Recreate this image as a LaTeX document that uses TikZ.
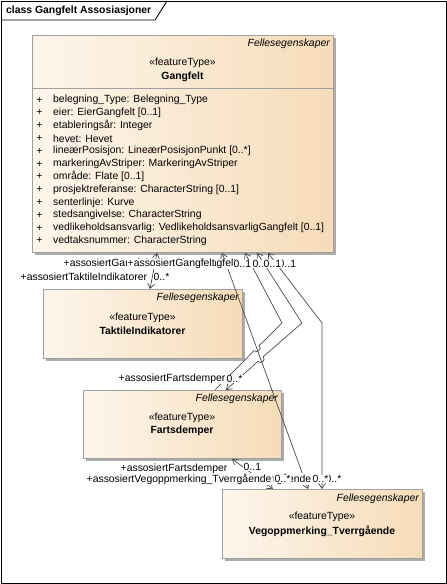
\documentclass[tikz,border=0pt]{standalone}
\usepackage{fontspec}
\setmainfont{Liberation Sans}
\usetikzlibrary{arrows.meta,shadows}
\definecolor{boxL}{HTML}{FDF6EC}
\definecolor{boxR}{HTML}{F6DCB8}
\definecolor{boxBorder}{HTML}{A0A0A0}
\definecolor{shadowC}{HTML}{ACACAC}
\definecolor{lineC}{HTML}{4A4A4A}
\newcommand\dfont{\fontsize{10.4}{12.8}\selectfont}
\begin{document}
\begin{tikzpicture}[x=1pt,y=-1pt,
  umlbox/.style={draw=boxBorder, line width=0.8pt, left color=boxL, right color=boxR,
    anchor=north west, inner sep=0pt,
    general shadow={fill=shadowC, shadow xshift=3pt, shadow yshift=-3pt}},
  txt/.style={font=\dfont, inner sep=0pt},
  lbl/.style={font=\dfont, fill=white, inner sep=0.5pt, anchor=west},
  conn/.style={draw=lineC, line width=0.7pt},
  >={Straight Barb[length=5pt,width=7pt]},
]
\useasboundingbox (0,0) rectangle (447,584);
\fill[white] (0,0) rectangle (447,584);
% frame
\node[draw, line width=0.9pt, anchor=north west, minimum width=445pt, minimum height=582pt, inner sep=0pt] (frame) at (1,1) {};
\draw[line width=0.9pt] (1,20) -- (155,20) -- (167,1);
\node[txt, anchor=west, font=\dfont\bfseries] (title) at (6,11) {class Gangfelt Assosiasjoner};

% Gangfelt
\node[umlbox, minimum width=301pt, minimum height=217pt] (gf) at (32,35) {};
\draw[boxBorder, line width=0.8pt] (32,88) -- (333,88);
\node[txt, anchor=east] (gfFe) at (330,44) {\itshape Fellesegenskaper};
\node[txt] (gfSt) at (182.5,63) {«featureType»};
\node[txt, font=\dfont\bfseries] (gfNm) at (182.5,77) {Gangfelt};
\foreach \t [count=\i] in {
  {belegning\_Type: Belegning\_Type},
  {eier: EierGangfelt [0..1]},
  {etableringsår: Integer},
  {hevet: Hevet},
  {lineærPosisjon: LineærPosisjonPunkt [0..*]},
  {markeringAvStriper: MarkeringAvStriper},
  {område: Flate [0..1]},
  {prosjektreferanse: CharacterString [0..1]},
  {senterlinje: Kurve},
  {stedsangivelse: CharacterString},
  {vedlikeholdsansvarlig: VedlikeholdsansvarligGangfelt [0..1]},
  {vedtaksnummer: CharacterString}}{
  \pgfmathsetmacro\yy{100+12.8*(\i-1)}
  \node[txt] (gfp\i) at (39.5,\yy) {+};
  \node[txt, anchor=west] (gfa\i) at (53,\yy) {\t};
}

% TaktileIndikatorer
\node[umlbox, minimum width=199pt, minimum height=69pt] (tk) at (43,289) {};
\node[txt, anchor=east] (tkFe) at (239,298) {\itshape Fellesegenskaper};
\node[txt] (tkSt) at (142.5,318) {«featureType»};
\node[txt, font=\dfont\bfseries] (tkNm) at (142.5,331) {TaktileIndikatorer};

% Fartsdemper
\node[umlbox, minimum width=198pt, minimum height=68pt] (fd) at (83,390) {};
\node[txt, anchor=east] (fdFe) at (278,399) {\itshape Fellesegenskaper};
\node[txt] (fdSt) at (182,418) {«featureType»};
\node[txt, font=\dfont\bfseries] (fdNm) at (182,431) {Fartsdemper};

% Vegoppmerking_Tverrgående
\node[umlbox, minimum width=200pt, minimum height=69pt] (vo) at (222,489) {};
\node[txt, anchor=east] (voFe) at (419,499) {\itshape Fellesegenskaper};
\node[txt] (voSt) at (322,517) {«featureType»};
\node[txt, font=\dfont\bfseries] (voNm) at (322,531) {Vegoppmerking\_Tverrgående};

% bend points and hops
\coordinate (tB) at (282,323);
\coordinate (hBa) at (259.1,345.6);
\coordinate (hBc1) at (262.4,348.9);
\coordinate (hBc2) at (257.4,353.9);
\coordinate (hBb) at (254.1,350.6);
\coordinate (tC) at (302,323);
\coordinate (hCa) at (263.2,356.7);
\coordinate (hCc1) at (266.3,360.2);
\coordinate (hCc2) at (261.1,364.8);
\coordinate (hCb) at (258.0,361.3);
\coordinate (tD) at (322,323);

% connectors
\draw[conn, <->] ([xshift=125pt]gf.south west) -- ([xshift=107pt]tk.north west);
\draw[conn, <->] ([xshift=190pt]gf.south west) -- ([xshift=86pt]vo.north west);
\draw[conn, <-] ([xshift=213pt]gf.south west) -- (tB) -- (hBa) .. controls (hBc1) and (hBc2) .. (hBb) -- ([xshift=132pt]fd.north west);
\draw[conn, <->] ([xshift=225pt]gf.south west) -- (tC) -- (hCa) .. controls (hCc1) and (hCc2) .. (hCb) -- ([xshift=143pt]fd.north west);
\draw[conn, <->] ([xshift=236pt]gf.south west) -- (tD) -- ([xshift=100pt]vo.north west);
\draw[conn, <->] ([xshift=149pt]fd.south west) -- ([xshift=51pt]vo.north west);

% labels at Gangfelt end
\node[lbl, anchor=east] (rG1) at (237,264) {+assosiertGangfelt};
\node[lbl] (mG4) at (278,264) {0..1};
\node[lbl] (rG2) at (63,264) {+assosiertGangfelt};
\node[lbl] (rG3) at (127,264) {+assosiertGangfelt};
\node[lbl] (mG1) at (233,264) {0..1};
\node[lbl] (mG2) at (252,264) {0..1};
\node[lbl] (mG3) at (263,264) {0..1};
% Taktile end
\node[lbl] (rTk) at (20,277) {+assosiertTaktileIndikatorer};
\node[lbl] (mTk) at (153,277) {0..*};
% Fartsdemper top end
\node[lbl] (rFd) at (118,379) {+assosiertFartsdemper};
\node[lbl] (mFd) at (226,379) {0..*};
% Fartsdemper bottom end
\node[lbl] (rFd2) at (120,469) {+assosiertFartsdemper};
\node[lbl] (mFd2) at (243,467) {0..1};
% Vegoppmerking end
\node[lbl] (mV3) at (325,479) {0..*};
\node[lbl, anchor=east] (rV2) at (312,479) {+assosiertVegoppmerking\_Tverrgående};
\node[lbl] (mV2) at (312,479) {0..*};
\node[lbl] (mV1) at (274,479) {0..*};
\node[lbl] (rV1) at (86,479) {+assosiertVegoppmerking\_Tverrgående};
\end{tikzpicture}
\end{document}
